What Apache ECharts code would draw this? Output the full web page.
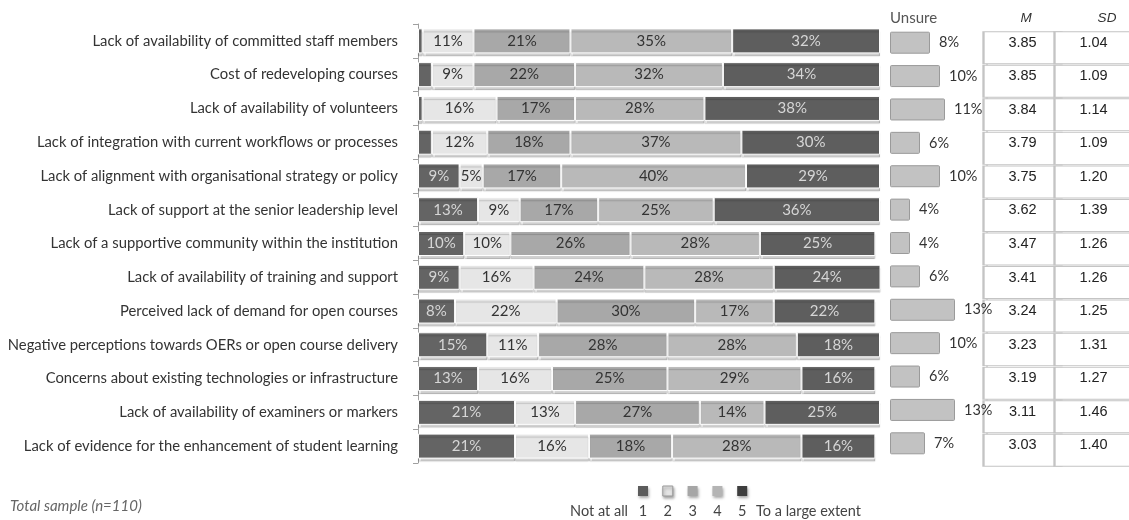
<!DOCTYPE html>
<html><head><meta charset="utf-8">
<script src="https://cdn.jsdelivr.net/npm/echarts@6/dist/echarts.min.js"></script>
<style>html,body{margin:0;padding:0;background:#fff}#c{width:1129px;height:520px}</style>
</head><body><div id="c"></div>
<script>
const categories = [
 "Lack of availability of committed staff members",
 "Cost of redeveloping courses",
 "Lack of availability of volunteers",
 "Lack of integration with current workflows or processes",
 "Lack of alignment with organisational strategy or policy",
 "Lack of support at the senior leadership level",
 "Lack of a supportive community within the institution",
 "Lack of availability of training and support",
 "Perceived lack of demand for open courses",
 "Negative perceptions towards OERs or open course delivery",
 "Concerns about existing technologies or infrastructure",
 "Lack of availability of examiners or markers",
 "Lack of evidence for the enhancement of student learning"
];
const level1 = [1, 3, 1, 3, 9, 13, 10, 9, 8, 15, 13, 21, 21];
const level2 = [11, 9, 16, 12, 5, 9, 10, 16, 22, 11, 16, 13, 16];
const level3 = [21, 22, 17, 18, 17, 17, 26, 24, 30, 28, 25, 27, 18];
const level4 = [35, 32, 28, 37, 40, 25, 28, 28, 17, 28, 29, 14, 28];
const level5 = [32, 34, 38, 30, 29, 36, 25, 24, 22, 18, 16, 25, 16];
const unsure = [8, 10, 11, 6, 10, 4, 4, 6, 13, 10, 6, 13, 7];
const meanM = ["3.85","3.85","3.84","3.79","3.75","3.62","3.47","3.41","3.24","3.23","3.19","3.11","3.03"];
const sdSD = ["1.04","1.09","1.14","1.09","1.20","1.39","1.26","1.26","1.25","1.31","1.27","1.46","1.40"];
const levelNames = ["1","2","3","4","5"];
const levelColors = ["#646464","#e6e6e6","#a8a8a8","#b9b9b9","#5e5e5e"];
const legendSwatch = ["#5c5c5c","#e4e4e4","#a6a6a6","#b4b4b4","#3e3e3e"];
const labelColors = ["#d6d6d6","#333","#333","#333","#d6d6d6"];

const FONT = "Lato";
const chart = echarts.init(document.getElementById('c'));
const levels = [level1, level2, level3, level4, level5];

const mainSeries = levels.map((arr, i) => ({
  type: 'bar', name: levelNames[i], stack: 'main', xAxisIndex: 0, yAxisIndex: 0,
  barWidth: 25, data: arr,
  itemStyle: { color: levelColors[i], borderColor: '#fff', borderWidth: 1,
    shadowColor: 'rgba(0,0,0,0.18)', shadowOffsetY: 3, shadowBlur: 1 },
  label: { show: true, position: 'inside', fontFamily: FONT, fontSize: 15, color: labelColors[i],
    formatter: p => p.value >= 5 ? p.value + '%' : '' },
  silent: true, animation: false
}));

const tableData = [];
categories.forEach((c, i) => { tableData.push([0, i, meanM[i]]); tableData.push([1, i, sdSD[i]]); });

const option = {
  animation: false,
  grid: [
    { left: 418, top: 24, width: 462, height: 439 },
    { left: 890, top: 26, width: 100, height: 434 },
    { left: 987, top: 31, width: 158, height: 436 }
  ],
  xAxis: [
    { gridIndex: 0, type: 'value', min: 0, max: 100, show: false },
    { gridIndex: 1, type: 'value', min: 0, max: 20, show: false },
    { gridIndex: 2, type: 'category', data: ['M','SD'], show: false }
  ],
  yAxis: [
    { gridIndex: 0, type: 'category', inverse: true, data: categories,
      axisLine: { show: true, lineStyle: { color: '#a0a0a0', width: 1 } },
      axisTick: { show: true, length: 5, lineStyle: { color: '#a0a0a0' } },
      axisLabel: { margin: 20, fontFamily: FONT, fontSize: 14.8, color: '#333' } },
    { gridIndex: 1, type: 'category', inverse: true, data: categories, show: false },
    { gridIndex: 2, type: 'category', inverse: true, data: categories,
      axisLine: { show: false }, axisTick: { show: false }, axisLabel: { show: false } }
  ],
  series: mainSeries.concat([
    { type: 'scatter', xAxisIndex: 2, yAxisIndex: 2, data: tableData, z: 1,
      symbol: 'rect', symbolSize: [78, 32],
      itemStyle: { color: '#fff', borderColor: '#c4c4c4', borderWidth: 1.5, opacity: 1 },
      label: { show: true, position: 'inside', offset: [0, -5], fontFamily: 'Liberation Sans', fontSize: 14.5, color: '#222',
        formatter: p => p.value[2] },
      silent: true },
    { type: 'bar', name: 'Unsure', xAxisIndex: 1, yAxisIndex: 1, data: unsure, barWidth: 22, z: 5,
      itemStyle: { color: '#c2c2c2', borderColor: '#9a9a9a', borderWidth: 1, borderRadius: 1 },
      label: { show: true, position: 'right', distance: 9, fontFamily: FONT, fontSize: 14.5, color: '#333',
        formatter: p => p.value + '%' },
      silent: true }
  ]),
  graphic: [
    { type: 'line', z: 0, shape: { x1: 987, y1: 33, x2: 987, y2: 466 }, style: { stroke: '#b0b0b0', lineWidth: 1 } },
    { type: 'text', x: 890, y: 18, style: { text: 'Unsure', fontFamily: FONT, fontSize: 15, fill: '#555', textVerticalAlign: 'middle' } },
    { type: 'text', x: 1026, y: 18, style: { text: 'M', fontFamily: 'Liberation Sans', fontStyle: 'italic', fontSize: 13.5, fill: '#333', textAlign: 'center', textVerticalAlign: 'middle' } },
    { type: 'text', x: 1107, y: 18, style: { text: 'SD', fontFamily: 'Liberation Sans', fontStyle: 'italic', fontSize: 13.5, fill: '#333', textAlign: 'center', textVerticalAlign: 'middle' } },
    { type: 'text', x: 10, y: 506, style: { text: 'Total sample (n=110)', fontFamily: FONT, fontStyle: 'italic', fontSize: 15, fill: '#666', textVerticalAlign: 'middle' } },
    { type: 'text', x: 628, y: 511, style: { text: 'Not at all', fontFamily: FONT, fontSize: 14.5, fill: '#444', textAlign: 'right', textVerticalAlign: 'middle' } },
    { type: 'text', x: 756, y: 511, style: { text: 'To a large extent', fontFamily: FONT, fontSize: 14.5, fill: '#444', textVerticalAlign: 'middle' } }
  ].concat(levelNames.map((n, i) => ({
    type: 'group', children: [
      { type: 'rect', shape: { x: 638 + i * 24.8, y: 486, width: 10, height: 10 },
        style: { fill: legendSwatch[i], stroke: i === 1 ? '#999' : null, lineWidth: 1, shadowColor: 'rgba(0,0,0,0.35)', shadowBlur: 3, shadowOffsetX: 1, shadowOffsetY: 2 } },
      { type: 'text', x: 643 + i * 24.8, y: 511, style: { text: n, fontFamily: FONT, fontSize: 14.5, fill: '#444', textAlign: 'center', textVerticalAlign: 'middle' } }
    ]
  })))
};
chart.setOption(option);
</script></body></html>
